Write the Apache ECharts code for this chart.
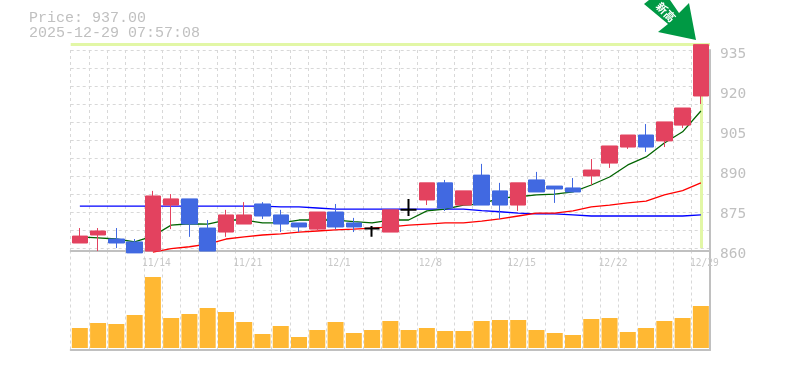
<!DOCTYPE html>
<html><head><meta charset="utf-8">
<style>html,body{margin:0;padding:0;background:#fff}#c{width:785px;height:370px}</style>
<script src="https://cdn.jsdelivr.net/npm/echarts@6/dist/echarts.min.js"></script>
</head><body><div id="c"></div>
<script>
const categories=['11/10','11/11','11/12','11/13','11/14','11/17','11/18','11/19','11/20','11/21','11/25','11/26','11/27','11/28','12/1','12/2','12/3','12/4','12/5','12/8','12/9','12/10','12/11','12/12','12/15','12/16','12/17','12/18','12/19','12/22','12/23','12/24','12/25','12/26','12/29'];
const tickLabels=['11/14','11/21','12/1','12/8','12/15','12/22','12/29'];
// [open, close, low, high]
const candles=[
[862.8,865.4,862.8,868.4],[865.8,867.3,859.8,868.4],[864.3,862.8,860.9,868.4],[863.2,859.1,859.1,864.3],
[859.8,880.4,859.8,882.3],[877.0,879.3,868.0,881.1],[879.3,869.9,865.1,879.3],[868.4,859.8,859.8,871.4],
[866.9,873.3,865.1,875.2],[869.9,873.3,869.9,878.1],[877.4,872.9,871.8,878.1],[873.3,869.9,866.9,875.2],
[870.3,868.8,866.9,870.3],[868.0,874.4,867.3,874.4],[874.4,868.8,868.0,877.4],[870.3,868.8,866.9,872.2],
[868.2,868.2,865.1,869.2],[866.9,875.2,866.9,875.2],[875.2,875.2,872.9,879.3],[878.9,885.3,877.0,885.3],
[885.3,875.9,874.8,886.4],[877.0,882.3,877.0,882.3],[888.2,877.0,877.0,892.4],[882.3,877.0,871.8,885.3],
[877.0,885.3,874.8,885.3],[886.4,881.9,881.9,889.4],[884.1,883.0,877.8,884.1],[883.4,881.9,881.9,887.1],
[887.9,890.1,884.5,894.2],[892.7,899.1,890.9,899.1],[898.7,903.2,898.0,903.2],[903.2,898.7,896.9,907.3],
[901.0,908.1,898.7,908.1],[906.9,913.3,905.8,913.3],[917.8,937.0,914.8,937.0]];
const maShort=[865.1,864.7,864.3,863.2,865.4,869.5,870.0,869.9,871.4,871.4,870.3,870.3,871.4,871.4,871.4,870.8,870.3,871.4,871.4,874.8,875.5,877.0,877.4,879.6,880.1,880.8,881.1,881.9,884.5,887.5,892.0,895.0,900.2,904.4,912.2];
const maMid=[null,null,null,null,859.4,860.7,861.4,862.4,864.3,865.1,865.8,866.2,866.9,867.3,867.7,868.0,868.4,868.8,869.5,869.9,870.3,870.3,871.0,871.8,872.9,874.0,874.0,874.8,876.3,877.0,877.8,878.5,880.8,882.4,885.3];
const maLong=[876.6,876.6,876.6,876.6,876.6,876.6,876.6,876.6,876.6,876.6,876.6,876.3,876.3,875.9,875.5,875.5,875.5,875.5,875.5,875.5,875.5,875.5,874.9,874.5,874.0,873.7,873.7,873.3,872.9,872.9,872.9,872.9,872.9,872.9,873.3];
const volumes=[20,25,24,33,71,30,34,40,36,26,14,22,11,18,26,15,18,27,18,20,17,17,27,28,28,18,15,13,29,30,16,20,27,30,42];
const lastPrice=937;
const highlightBottom=860.9;
const titleLines=['Price: 937.00','2025-12-29 07:57:08'];

const GREY='#c0c0c0',GRID='#d8d8d8',RED='#e3425f',BLUE='#4169e1',HL='#e2f7a6';
const split={show:true,interval:0,lineStyle:{color:GRID,type:[3,3],width:1}};
const lastCat=categories[categories.length-1];
const chart=echarts.init(document.getElementById('c'),null,{renderer:'canvas'});
chart.setOption({
 animation:false,backgroundColor:'#fff',
 title:{text:titleLines.join('\n'),left:29,top:11,padding:0,textStyle:{fontFamily:'Liberation Mono',fontSize:15,fontWeight:'normal',color:GREY,lineHeight:15}},
 grid:[{left:70.7,top:50,width:639.3,height:200.5},{left:70.7,top:250.5,width:639.3,height:99.5},{left:70.7,top:44,width:639.3,height:206.5}],
 xAxis:[
  {type:'category',gridIndex:0,data:categories,position:'bottom',axisTick:{show:false},
   axisLine:{show:true,onZero:false,lineStyle:{color:GREY,width:2}},splitLine:split,
   axisLabel:{interval:(i,v)=>tickLabels.includes(v),margin:8,padding:[0,0,0,7],fontFamily:'DejaVu Sans Mono',fontSize:9.6,color:'#c8c8c8'}},
  {type:'category',gridIndex:1,data:categories,position:'bottom',axisTick:{show:false},axisLabel:{show:false},
   axisLine:{show:true,onZero:false,lineStyle:{color:GREY,width:2}},splitLine:split},
  {type:'category',gridIndex:2,data:categories,show:false}
 ],
 yAxis:[
  {type:'value',gridIndex:0,position:'right',min:860,max:935,interval:15,scale:true,
   axisLine:{show:true,lineStyle:{color:GREY,width:2}},axisTick:{show:false},splitLine:{show:false},
   axisLabel:{margin:10,verticalAlign:'top',lineHeight:8,fontFamily:'DejaVu Sans Mono',fontSize:14.5,color:GREY}},
  {type:'value',gridIndex:0,position:'left',inverse:true,min:0,max:200.5,interval:18,
   axisLine:{show:false},axisTick:{show:false},axisLabel:{show:false},
   splitLine:{show:true,lineStyle:{color:GRID,type:[3,3],width:1}}},
  {type:'value',gridIndex:1,position:'right',min:-2,max:97.5,
   axisLine:{show:true,lineStyle:{color:GREY,width:2}},axisTick:{show:false},axisLabel:{show:false},splitLine:{show:false}},
  {type:'value',gridIndex:2,min:860,max:937.25,show:false,scale:true,splitLine:{show:false}}
 ],
 series:[
  {type:'line',name:'highlight',data:candles.map(c=>c[1]),xAxisIndex:2,yAxisIndex:3,symbol:'none',z:2,lineStyle:{opacity:0},
   markLine:{silent:true,symbol:'none',z:1,label:{show:false},animation:false,lineStyle:{color:HL,width:3,type:'solid'},
    data:[{yAxis:lastPrice},[{xAxis:lastCat,yAxis:lastPrice},{xAxis:lastCat,yAxis:highlightBottom}]]}},
  {type:'line',name:'long',data:maLong,xAxisIndex:0,yAxisIndex:0,symbol:'none',clip:false,z:3,lineStyle:{color:'#0000ff',width:1.3}},
  {type:'line',name:'mid',data:maMid,xAxisIndex:0,yAxisIndex:0,symbol:'none',clip:false,z:3,lineStyle:{color:'#ff0000',width:1.3}},
  {type:'line',name:'short',data:maShort,xAxisIndex:0,yAxisIndex:0,symbol:'none',clip:false,z:3,lineStyle:{color:'#006400',width:1.3}},
  {type:'candlestick',name:'price',xAxisIndex:0,yAxisIndex:0,clip:false,z:4,barWidth:16,
   data:candles.map(c=>c[0]===c[1]?{value:c,itemStyle:{borderWidth:2,borderColor:'#000',borderColor0:'#000',borderColorDoji:'#000'}}:c),
   itemStyle:{color:RED,color0:BLUE,borderColor:RED,borderColor0:BLUE,borderWidth:1}},
  {type:'bar',name:'volume',data:volumes,xAxisIndex:1,yAxisIndex:2,barWidth:16,itemStyle:{color:'#ffb833'},z:3}
 ],
 graphic:[
  {type:'polygon',z:100,shape:{points:[[644,4],[649,0],[670,0],[679,13],[689,3],[696,40],[658,32],[668,24]]},style:{fill:'#009944'}},
  {type:'text',z:101,x:666,y:12,rotation:-0.8,style:{text:'新高',fill:'#fff',font:'bold 11px "Noto Sans CJK JP"',align:'center',verticalAlign:'middle'}}
 ]
});
</script></body></html>
